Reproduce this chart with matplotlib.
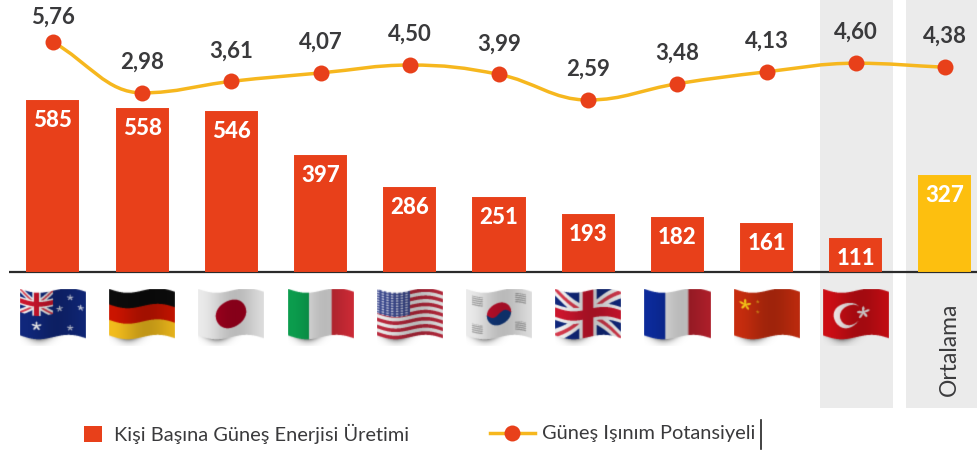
import numpy as np
from matplotlib import pyplot as plt
from matplotlib.lines import Line2D
from matplotlib.patches import Patch, PathPatch
from matplotlib.path import Path

plt.rcParams['font.family'] = ['Lato', 'DejaVu Sans']

countries = ["AU", "DE", "JP", "IT", "US", "KR", "UK", "FR", "CN", "TR", "Ortalama"]
production = [585, 558, 546, 397, 286, 251, 193, 182, 161, 111, 327]
potential = [5.76, 2.98, 3.61, 4.07, 4.50, 3.99, 2.59, 3.48, 4.13, 4.60, 4.38]
potential_labels = ["5,76", "2,98", "3,61", "4,07", "4,50", "3,99", "2,59", "3,48", "4,13", "4,60", "4,38"]
legend_labels = ["Kişi Başına Güneş Enerjisi Üretimi", "Güneş Işınım Potansiyeli"]

ORANGE = "#e8401a"
YELLOW = "#fdbf0f"
LINE = "#f6b71e"
DARK = "#3a3a3c"
PANEL = "#ebebeb"

W, H = 977, 450
BASE = 271          # row of value 0 in pixels
PX_BAR = 0.2905     # pixels per unit of production
X0, DX = 53, 89.2   # first category centre and spacing in pixels


def px_x(p):
    return (p - X0) / DX


def px_bar(p):
    return (BASE - p) / PX_BAR


def hexrgb(c):
    return np.array([int(c[i:i + 2], 16) for i in (1, 3, 5)]) / 255


def star(u, v, cx, cy, r):
    # u is stretched so the star stays round on the 66x50 flag
    du, dv = (u - cx) * 1.3, v - cy
    a = np.arctan2(du, -dv)
    return np.hypot(du, dv) < r * (0.62 + 0.38 * np.cos(5 * a))


def paint(name, u, v):
    img = np.ones(u.shape + (3,)) * hexrgb("#e6e6e6")

    def fill(mask, c):
        img[mask] = hexrgb(c)

    au = u * 1.3
    if name == "AU" or name == "UK":
        uu, vv = (u, v) if name == "UK" else (u / 0.5, v / 0.5)
        fill(np.ones_like(u, bool), "#10277a")
        box = (uu <= 1) & (vv <= 1)
        d1 = np.abs(vv - uu) < 0.14
        d2 = np.abs(vv - (1 - uu)) < 0.14
        fill(box & (d1 | d2), "#ececec")
        fill(box & (np.abs(vv - uu) < 0.045), "#d23a4c")
        fill(box & (np.abs(vv - (1 - uu)) < 0.045), "#d23a4c")
        fill(box & ((np.abs(uu - 0.5) < 0.13) | (np.abs(vv - 0.5) < 0.17)), "#ececec")
        fill(box & ((np.abs(uu - 0.5) < 0.08) | (np.abs(vv - 0.5) < 0.1)), "#c8152c")
        if name == "AU":
            fill(star(u, v, 0.25, 0.72, 0.1), "#f2f2f2")
            for cx, cy in [(0.76, 0.2), (0.6, 0.42), (0.92, 0.38), (0.76, 0.85)]:
                fill(star(u, v, cx, cy, 0.065), "#d5d9e8")
    elif name == "DE":
        fill(v < 1 / 3, "#0c0c0c")
        fill((v >= 1 / 3) & (v < 2 / 3), "#c81400")
        fill(v >= 2 / 3, "#eeb91c")
    elif name == "JP":
        fill(np.hypot(au - 0.65, v - 0.5) < 0.3, "#a5001f")
    elif name == "IT":
        fill(u < 0.32, "#0b9a4c")
        fill(u > 0.66, "#d42c38")
    elif name == "US":
        stripes = (np.floor(v * 13) % 2) == 0
        fill(stripes, "#b8283c")
        box = (u < 0.5) & (v < 0.52)
        fill(box, "#3f4c8e")
        dots = ((u * 14) % 1 < 0.5) & ((v * 18) % 1 < 0.5)
        fill(box & dots, "#c9cce0")
    elif name == "KR":
        du, dv = au - 0.65, v - 0.5
        r = np.hypot(du, dv)
        top = dv + 0.06 * np.sin(du * 14) < 0
        fill((r < 0.24) & top, "#c8102e")
        fill((r < 0.24) & ~top, "#123a80")
        for cx, cy in [(0.17, 0.2), (0.83, 0.2), (0.17, 0.8), (0.83, 0.8)]:
            tri = (np.abs(u - cx) < 0.08) & (np.abs(v - cy) < 0.1) & ((v * 22) % 1 < 0.6)
            fill(tri, "#a0a0a0")
    elif name == "FR":
        fill(u < 0.32, "#0c2a98")
        fill(u > 0.66, "#b4202c")
    elif name == "CN":
        fill(np.ones_like(u, bool), "#c42c0e")
        fill(star(u, v, 0.17, 0.27, 0.12), "#f5c518")
        for cx, cy in [(0.36, 0.2), (0.36, 0.42)]:
            fill(star(u, v, cx, cy, 0.035), "#e8a018")
    elif name == "TR":
        fill(np.ones_like(u, bool), "#c90d14")
        outer = np.hypot(au - 0.48, v - 0.5) < 0.27
        inner = np.hypot(au - 0.55, v - 0.5) < 0.215
        fill(outer & ~inner, "#f2e8e8")
        fill(star(u, v, 0.61, 0.5, 0.13), "#f2e8e8")
    return img


def make_flag(name, w=66, h=57, ss=3):
    # a waving flag with a soft shadow under it, transparent elsewhere
    py, px = np.mgrid[0:h * ss, 0:w * ss]
    px = (px + 0.5) / ss
    py = (py + 0.5) / ss
    u = px / w
    wave = 3.2 * np.sin(u * 2 * np.pi * 0.95 + 0.1) + u * 4
    top, height = 1.5, 46.5
    v = (py - top - wave + 2) / height
    mask = (v >= 0) & (v <= 1)
    img = paint(name, np.clip(u, 0, 1), np.clip(v, 0, 1))
    shade = 0.93 + 0.09 * np.sin(u * 2 * np.pi * 0.95 + 1.4) - 0.05 * u

    alpha = np.zeros(u.shape)
    rgb = np.zeros(u.shape + (3,))
    rgb[mask] = np.clip(img[mask] * shade[mask, None], 0, 1)
    alpha[mask] = 1

    # shadow under the left part of the flag, left black with low alpha
    below = v > 1
    dist = (v - 1) * height
    shadow = np.exp(-((u - 0.3) / 0.2) ** 2) * np.exp(-dist / 3.0) * 0.5
    alpha[below] = shadow[below]

    # premultiplied, so downsampling and blur stay clean at the edges
    pm = np.dstack([rgb * alpha[..., None], alpha])
    pm = pm.reshape(h, ss, w, ss, 4).mean(axis=(1, 3))
    padded = np.pad(pm, ((1, 1), (1, 1), (0, 0)), mode="constant")
    kernel = [(0, 0, 4), (0, 1, 1), (0, -1, 1), (1, 0, 1), (-1, 0, 1)]
    blur = sum(k * np.roll(np.roll(padded, a, 0), b, 1) for a, b, k in kernel) / 8
    blur = blur[1:-1, 1:-1]
    out = blur.copy()
    a = np.maximum(blur[..., 3:], 1e-6)
    out[..., :3] = np.clip(blur[..., :3] / a, 0, 1)
    return out


def smooth_path(xs, ys):
    # bezier through the points, flat tangents at the turning points
    xs, ys = np.asarray(xs, float), np.asarray(ys, float)
    slopes = np.gradient(ys, xs)
    for i in range(1, len(xs) - 1):
        if (ys[i] - ys[i - 1]) * (ys[i + 1] - ys[i]) <= 0:
            slopes[i] = 0
    verts = [(xs[0], ys[0])]
    codes = [Path.MOVETO]
    for i in range(len(xs) - 1):
        dx = (xs[i + 1] - xs[i]) * 0.4
        verts += [(xs[i] + dx, ys[i] + slopes[i] * dx),
                  (xs[i + 1] - dx, ys[i + 1] - slopes[i + 1] * dx),
                  (xs[i + 1], ys[i + 1])]
        codes += [Path.CURVE4] * 3
    return Path(verts, codes)


fig = plt.figure(figsize=(W / 100, H / 100), dpi=100)
ax = fig.add_axes([0, 0, 1, 1])
x = np.arange(len(countries))

# grey panels behind Turkey and the average
ax.axvspan(px_x(820), px_x(893), ymin=1 - 408 / H, ymax=1, color=PANEL, lw=0, zorder=0)
ax.axvspan(px_x(906), px_x(W + 2), ymin=1 - 408 / H, ymax=1, color=PANEL, lw=0, zorder=0)

ax.plot([px_x(9), px_x(W)], [px_bar(272)] * 2, color="#2b2b2b", lw=1.6, zorder=1, solid_capstyle="butt")
colors = [ORANGE] * 10 + [YELLOW]
ax.bar(x, production, width=51 / DX, color=colors, edgecolor=colors, lw=1.4, zorder=2)

for i, val in enumerate(production):
    ax.annotate(str(val), (i, val), xytext=(0, -14), textcoords="offset points",
                ha="center", va="center", color="white", fontsize=16, fontweight="black", zorder=5)

for i, name in enumerate(countries[:-1]):
    ax.imshow(make_flag(name), extent=(i - 33 / DX, i + 33 / DX, px_bar(346), px_bar(289)),
              aspect="auto", interpolation="bilinear", zorder=3)

ax.text(px_x(949), px_bar(349), countries[-1], rotation=90, ha="center", va="center",
        fontsize=16.5, color=DARK)

ax.set_xlim(px_x(0), px_x(W))
ax.set_ylim(px_bar(H), px_bar(0))
ax.axis("off")

# second scale for the radiation potential
ax2 = ax.twinx()
PX_LINE = 18.3
ax2.set_ylim(5.76 - (H - 42) / PX_LINE, 5.76 + 42 / PX_LINE)
ax2.axis("off")
ax2.add_patch(PathPatch(smooth_path(x, potential), fill=False, edgecolor=LINE, lw=2.5, zorder=3))
ax2.plot(x, potential, ls="none", marker="o", ms=11.5, color=ORANGE, mec="none", zorder=4)

for i, (val, lab) in enumerate(zip(potential, potential_labels)):
    off = 17.5 if i == 0 else 22
    ax2.annotate(lab, (i, val), xytext=(0, off), textcoords="offset points",
                 ha="center", va="center", color=DARK, fontsize=16, fontweight="bold")

# two legends, so each handle keeps its own length and position
leg1 = ax2.legend([Patch(facecolor=ORANGE, edgecolor="none")], legend_labels[:1],
                  loc="center left", bbox_to_anchor=(84 / W, 1 - 434 / H), frameon=False,
                  fontsize=14.4, labelcolor=DARK, handlelength=0.9, handleheight=0.9,
                  handletextpad=0.62, borderpad=0, borderaxespad=0)
ax2.add_artist(leg1)
ax2.legend([Line2D([0], [0], color=LINE, lw=2.5, marker="o", ms=11.5, mfc=ORANGE, mec="none")],
           legend_labels[1:], loc="center left", bbox_to_anchor=(490 / W, 1 - 434 / H), frameon=False,
           fontsize=14.4, labelcolor=DARK, handlelength=2.25, handletextpad=0.35,
           borderpad=0, borderaxespad=0)

# text cursor left in the legend of the original
ax2.plot([px_x(761)] * 2, [5.76 - (420 - 42) / PX_LINE, 5.76 - (449 - 42) / PX_LINE],
         color="#222222", lw=1.2)

fig.savefig("out.png", dpi=100)
